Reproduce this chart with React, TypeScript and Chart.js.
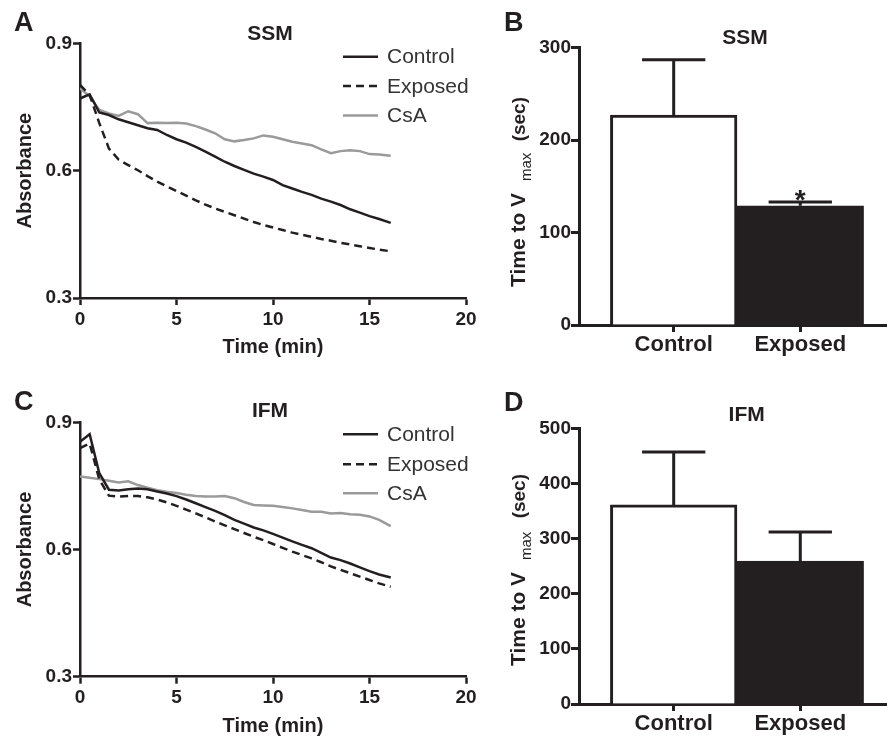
import React, { useEffect, useRef } from "react";
import { Chart, registerables } from "chart.js";

Chart.register(...registerables);

const FONT = '"Liberation Sans", Arial, Helvetica, sans-serif';
const INK = "#231f20";
const GREY = "#9a9a9a";
const LEGEND_INK = "#333333";

// ---------- data ----------
const TIMES = [0, 0.5, 1, 1.5, 2, 2.5, 3, 3.5, 4, 4.5, 5, 5.5, 6, 6.5, 7, 7.5, 8, 8.5, 9, 9.5, 10, 10.5, 11, 11.5, 12, 12.5, 13, 13.5, 14, 14.5, 15, 15.5, 16.1];

const SSM_CONTROL = [0.770, 0.780, 0.737, 0.731, 0.721, 0.714, 0.707, 0.700, 0.696, 0.684, 0.674, 0.666, 0.656, 0.645, 0.633, 0.621, 0.611, 0.602, 0.593, 0.586, 0.578, 0.566, 0.558, 0.550, 0.543, 0.534, 0.527, 0.519, 0.509, 0.501, 0.493, 0.486, 0.477];
const SSM_EXPOSED = [0.802, 0.778, 0.712, 0.652, 0.626, 0.613, 0.601, 0.587, 0.574, 0.563, 0.552, 0.541, 0.530, 0.520, 0.511, 0.503, 0.495, 0.487, 0.479, 0.472, 0.466, 0.460, 0.454, 0.449, 0.444, 0.439, 0.435, 0.430, 0.426, 0.422, 0.418, 0.414, 0.410];
const SSM_CSA = [0.794, 0.775, 0.743, 0.735, 0.729, 0.740, 0.733, 0.712, 0.713, 0.712, 0.713, 0.711, 0.705, 0.697, 0.688, 0.674, 0.669, 0.672, 0.676, 0.683, 0.680, 0.674, 0.668, 0.664, 0.660, 0.650, 0.641, 0.646, 0.648, 0.646, 0.639, 0.638, 0.635];

const IFM_CONTROL = [0.854, 0.872, 0.780, 0.741, 0.739, 0.742, 0.744, 0.742, 0.737, 0.732, 0.726, 0.718, 0.709, 0.700, 0.691, 0.681, 0.670, 0.661, 0.652, 0.645, 0.637, 0.628, 0.619, 0.611, 0.603, 0.592, 0.581, 0.575, 0.567, 0.558, 0.549, 0.541, 0.534];
const IFM_EXPOSED = [0.839, 0.850, 0.765, 0.727, 0.725, 0.726, 0.726, 0.723, 0.718, 0.711, 0.703, 0.694, 0.685, 0.676, 0.666, 0.657, 0.648, 0.639, 0.630, 0.622, 0.613, 0.604, 0.595, 0.587, 0.579, 0.570, 0.560, 0.552, 0.544, 0.536, 0.528, 0.520, 0.512];
const IFM_CSA = [0.772, 0.769, 0.766, 0.762, 0.758, 0.761, 0.752, 0.746, 0.740, 0.736, 0.733, 0.729, 0.726, 0.725, 0.725, 0.726, 0.721, 0.712, 0.705, 0.704, 0.703, 0.700, 0.697, 0.693, 0.689, 0.689, 0.685, 0.686, 0.683, 0.682, 0.678, 0.670, 0.655];

const SERIES_LABELS = ["Control", "Exposed", "CsA"];
const TIME_TICKS = [0, 5, 10, 15, 20];
const ABS_TICKS = [0.3, 0.6, 0.9];

const BAR_CATEGORIES = ["Control", "Exposed"];
const SSM_BAR_MEANS = [227, 129];
const SSM_BAR_ERRORS = [60, 4];
const SSM_BAR_SIG = ["", "*"];
const SSM_BAR_TICKS = [0, 100, 200, 300];
const IFM_BAR_MEANS = [361, 259];
const IFM_BAR_ERRORS = [96, 53];
const IFM_BAR_SIG = ["", ""];
const IFM_BAR_TICKS = [0, 100, 200, 300, 400, 500];

const X_TITLE = "Time (min)";
const Y_TITLE_LINE = "Absorbance";
const Y_TITLE_MAIN = "Time to V";
const Y_TITLE_SUB = "max";
const Y_TITLE_UNIT = "(sec)";

// ---------- line panels ----------
type LineOpts = {
  control: number[];
  exposed: number[];
  csa: number[];
  letter: string;
  letterY: number;
  title: string;
  titleX: number;
  titleY: number;
  legendY: number[];
  padTop: number;
  xHeight: number;
  xTitlePad: number;
};

function series(vals: number[]) {
  return TIMES.map((t, i) => ({ x: t, y: vals[i] }));
}

function lineConfig(o: LineOpts): any {
  const tickFont = { family: FONT, size: 19, weight: "bold" as const };
  const titleFont = { family: FONT, size: 20, weight: "bold" as const };
  const axisCommon = {
    grid: {
      display: true,
      drawOnChartArea: false,
      drawTicks: true,
      tickLength: 7,
      tickWidth: 2.5,
      tickColor: INK,
      color: INK,
      offset: false,
    },
    border: { display: true, color: INK, width: 2.5 },
  };
  const decor = {
    id: "lineDecor",
    afterDraw(chart: any) {
      const ctx = chart.ctx as CanvasRenderingContext2D;
      ctx.save();
      ctx.fillStyle = INK;
      ctx.textBaseline = "middle";
      ctx.textAlign = "left";
      ctx.font = `bold 27px ${FONT}`;
      ctx.fillText(o.letter, 14, o.letterY);
      ctx.textAlign = "center";
      ctx.font = `bold 21px ${FONT}`;
      ctx.fillText(o.title, o.titleX, o.titleY);
      chart.data.datasets.forEach((ds: any, i: number) => {
        const y = o.legendY[i];
        ctx.strokeStyle = ds.borderColor;
        ctx.lineWidth = ds.borderWidth;
        ctx.setLineDash(ds.borderDash || []);
        ctx.beginPath();
        ctx.moveTo(343, y);
        ctx.lineTo(378, y);
        ctx.stroke();
        ctx.setLineDash([]);
        ctx.fillStyle = LEGEND_INK;
        ctx.textAlign = "left";
        ctx.font = `21px ${FONT}`;
        ctx.fillText(ds.label, 387, y + 1);
      });
      ctx.restore();
    },
  };
  return {
    type: "line",
    data: {
      datasets: [
        { label: SERIES_LABELS[0], data: series(o.control), borderColor: INK, borderWidth: 2.5, pointRadius: 0, tension: 0, fill: false },
        { label: SERIES_LABELS[1], data: series(o.exposed), borderColor: INK, borderWidth: 2.5, borderDash: [8, 5], pointRadius: 0, tension: 0, fill: false },
        { label: SERIES_LABELS[2], data: series(o.csa), borderColor: GREY, borderWidth: 2.5, pointRadius: 0, tension: 0, fill: false },
      ],
    },
    options: {
      responsive: false,
      animation: false,
      devicePixelRatio: 1,
      events: [],
      layout: { padding: { left: 0, top: o.padTop, right: 14, bottom: 0 } },
      plugins: { legend: { display: false }, title: { display: false }, tooltip: { enabled: false } },
      scales: {
        x: {
          type: "linear",
          min: 0,
          max: 20,
          ...axisCommon,
          afterBuildTicks: (s: any) => {
            s.ticks = TIME_TICKS.map((v) => ({ value: v }));
          },
          afterFit: (s: any) => {
            s.height = o.xHeight;
          },
          ticks: { color: INK, font: tickFont, padding: 3, maxRotation: 0, callback: (v: any) => String(v) },
          title: { display: true, text: X_TITLE, color: INK, font: titleFont, padding: { top: 0, bottom: o.xTitlePad } },
        },
        y: {
          type: "linear",
          min: 0.3,
          max: 0.9,
          ...axisCommon,
          afterBuildTicks: (s: any) => {
            s.ticks = ABS_TICKS.map((v) => ({ value: v }));
          },
          afterFit: (s: any) => {
            s.width = 80;
          },
          ticks: { color: INK, font: tickFont, padding: 1, callback: (v: any) => Number(v).toFixed(1) },
          title: { display: true, text: Y_TITLE_LINE, color: INK, font: titleFont, padding: { top: 13, bottom: 0 } },
        },
      },
    },
    plugins: [decor],
  };
}

// ---------- bar panels ----------
type BarOpts = {
  means: number[];
  errors: number[];
  sig: string[];
  ticks: number[];
  max: number;
  letter: string;
  letterY: number;
  title: string;
  titleX: number;
  titleY: number;
  padTop: number;
  xHeight: number;
  mainStart: number;
  subStart: number;
  unitEnd: number;
};

function barConfig(o: BarOpts): any {
  const decor = {
    id: "barDecor",
    afterDatasetsDraw(chart: any) {
      const ctx = chart.ctx as CanvasRenderingContext2D;
      const meta = chart.getDatasetMeta(0);
      const yS = chart.scales.y;
      ctx.save();
      ctx.strokeStyle = INK;
      ctx.fillStyle = INK;
      ctx.lineWidth = 3;
      meta.data.forEach((bar: any, i: number) => {
        const x = bar.x;
        const w = bar.width;
        const y0 = yS.getPixelForValue(o.means[i]);
        const y1 = yS.getPixelForValue(o.means[i] + o.errors[i]);
        ctx.beginPath();
        ctx.moveTo(x, y0);
        ctx.lineTo(x, y1);
        ctx.moveTo(x - w / 4, y1);
        ctx.lineTo(x + w / 4, y1);
        ctx.stroke();
        if (o.sig[i]) {
          ctx.font = `bold 28px ${FONT}`;
          ctx.textAlign = "center";
          ctx.textBaseline = "alphabetic";
          ctx.fillText(o.sig[i], x, y1 + 7);
        }
      });
      ctx.restore();
    },
    afterDraw(chart: any) {
      const ctx = chart.ctx as CanvasRenderingContext2D;
      ctx.save();
      ctx.fillStyle = INK;
      ctx.textBaseline = "middle";
      ctx.textAlign = "left";
      ctx.font = `bold 27px ${FONT}`;
      ctx.fillText(o.letter, 44, o.letterY);
      ctx.textAlign = "center";
      ctx.font = `bold 21px ${FONT}`;
      ctx.fillText(o.title, o.titleX, o.titleY);
      // rotated y-axis title with subscript
      ctx.translate(65, 0);
      ctx.rotate(-Math.PI / 2);
      ctx.textBaseline = "alphabetic";
      ctx.textAlign = "left";
      ctx.font = `bold 21px ${FONT}`;
      ctx.fillText(Y_TITLE_MAIN, -o.mainStart, 0);
      ctx.font = `15px ${FONT}`;
      ctx.fillText(Y_TITLE_SUB, -o.subStart, 6);
      ctx.textAlign = "right";
      ctx.font = `bold 19px ${FONT}`;
      ctx.fillText(Y_TITLE_UNIT, -o.unitEnd, 0);
      ctx.restore();
    },
  };
  return {
    type: "bar",
    data: {
      datasets: [
        {
          label: "Time to Vmax",
          data: BAR_CATEGORIES.map((c, i) => ({ x: i + 1, y: o.means[i] })),
          backgroundColor: ["#ffffff", INK],
          borderColor: INK,
          borderWidth: 3,
          categoryPercentage: 1,
          barPercentage: 1,
        },
      ],
    },
    options: {
      responsive: false,
      animation: false,
      devicePixelRatio: 1,
      events: [],
      layout: { padding: { left: 0, top: o.padTop, right: 0, bottom: 0 } },
      plugins: { legend: { display: false }, title: { display: false }, tooltip: { enabled: false } },
      scales: {
        x: {
          type: "linear",
          min: 0.252,
          max: 2.685,
          offset: false,
          grid: { display: true, offset: false, drawOnChartArea: false, drawTicks: true, tickLength: 7, tickWidth: 3, tickColor: INK, color: INK },
          border: { display: true, color: INK, width: 3 },
          afterBuildTicks: (s: any) => {
            s.ticks = BAR_CATEGORIES.map((c, i) => ({ value: i + 1 }));
          },
          afterFit: (s: any) => {
            s.height = o.xHeight;
          },
          ticks: {
            color: INK,
            font: { family: FONT, size: 22, weight: "bold" },
            padding: 0,
            maxRotation: 0,
            callback: (v: any, i: number) => BAR_CATEGORIES[i],
          },
        },
        y: {
          type: "linear",
          min: 0,
          max: o.max,
          grid: { display: true, offset: false, drawOnChartArea: false, drawTicks: true, tickLength: 8, tickWidth: 3, tickColor: INK, color: INK },
          border: { display: true, color: INK, width: 3 },
          afterBuildTicks: (s: any) => {
            s.ticks = o.ticks.map((v) => ({ value: v }));
          },
          afterFit: (s: any) => {
            s.width = 119;
          },
          ticks: { color: INK, font: { family: FONT, size: 19, weight: "bold" }, padding: 0, callback: (v: any) => String(v) },
        },
      },
    },
    plugins: [decor],
  };
}

function ChartPanel(props: { left: number; top: number; width: number; height: number; build: () => any }) {
  const ref = useRef<HTMLCanvasElement>(null);
  useEffect(() => {
    const chart = new Chart(ref.current as HTMLCanvasElement, props.build());
    return () => chart.destroy();
  }, []);
  return (
    <canvas
      ref={ref}
      width={props.width}
      height={props.height}
      style={{ position: "absolute", left: props.left, top: props.top, width: props.width, height: props.height }}
    />
  );
}

export default function App() {
  Chart.defaults.font.family = FONT;
  return (
    <div style={{ position: "absolute", left: 0, top: 0, width: 887, height: 739, background: "#ffffff", overflow: "hidden" }}>
      <ChartPanel
        left={0}
        top={0}
        width={480}
        height={370}
        build={() =>
          lineConfig({
            control: SSM_CONTROL,
            exposed: SSM_EXPOSED,
            csa: SSM_CSA,
            letter: "A",
            letterY: 24,
            title: "SSM",
            titleX: 270,
            titleY: 34,
            legendY: [56.7, 86, 115.5],
            padTop: 43.3,
            xHeight: 72,
            xTitlePad: 11,
          })
        }
      />
      <ChartPanel
        left={0}
        top={370}
        width={480}
        height={369}
        build={() =>
          lineConfig({
            control: IFM_CONTROL,
            exposed: IFM_EXPOSED,
            csa: IFM_CSA,
            letter: "C",
            letterY: 32.5,
            title: "IFM",
            titleX: 270,
            titleY: 41.7,
            legendY: [64.3, 94.3, 123.3],
            padTop: 52.3,
            xHeight: 62.3,
            xTitlePad: 1,
          })
        }
      />
      <ChartPanel
        left={460}
        top={0}
        width={427}
        height={370}
        build={() =>
          barConfig({
            means: SSM_BAR_MEANS,
            errors: SSM_BAR_ERRORS,
            sig: SSM_BAR_SIG,
            ticks: SSM_BAR_TICKS,
            max: 300,
            letter: "B",
            letterY: 23.3,
            title: "SSM",
            titleX: 285,
            titleY: 38.3,
            padTop: 47.7,
            xHeight: 45,
            mainStart: 287,
            subStart: 181,
            unitEnd: 97,
          })
        }
      />
      <ChartPanel
        left={460}
        top={370}
        width={427}
        height={369}
        build={() =>
          barConfig({
            means: IFM_BAR_MEANS,
            errors: IFM_BAR_ERRORS,
            sig: IFM_BAR_SIG,
            ticks: IFM_BAR_TICKS,
            max: 500,
            letter: "D",
            letterY: 33.3,
            title: "IFM",
            titleX: 286.7,
            titleY: 45,
            padTop: 58.3,
            xHeight: 35,
            mainStart: 296,
            subStart: 190,
            unitEnd: 104,
          })
        }
      />
    </div>
  );
}
